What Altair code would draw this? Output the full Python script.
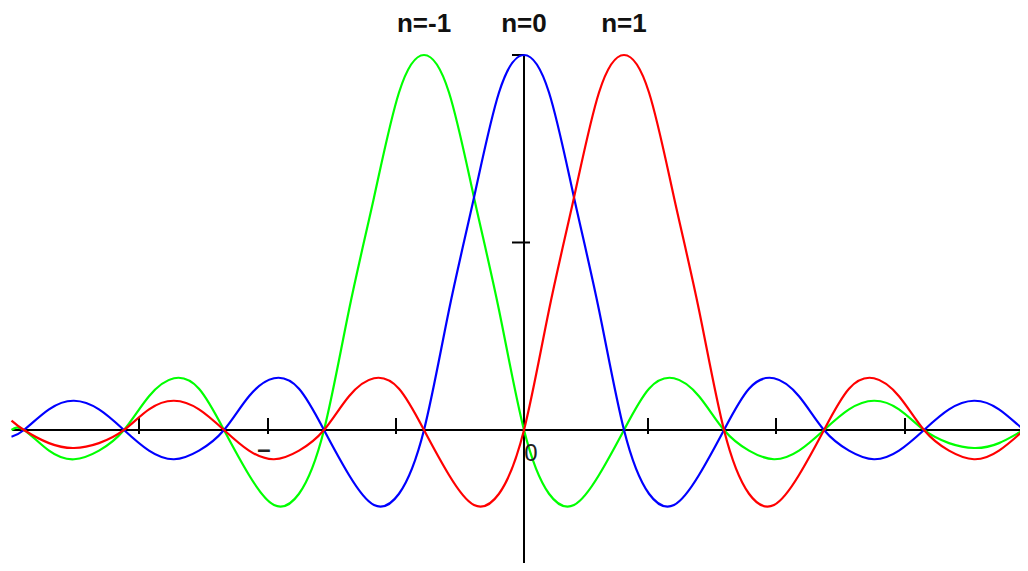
import altair as alt
import pandas as pd

# sample positions (units of the sample spacing)
xs = [-5.125, -5.0, -4.75, -4.5, -4.25, -4.0, -3.75, -3.5, -3.25, -3.0, -2.75, -2.5, -2.25,
      -2.0, -1.75, -1.5, -1.25, -1.0, -0.75, -0.5, -0.25, 0.0, 0.25, 0.5, 0.75, 1.0,
      1.25, 1.5, 1.75, 2.0, 2.25, 2.5, 2.75, 3.0, 3.25, 3.5, 3.75, 4.0, 4.25, 4.5,
      4.75, 5.0, 5.125]

# n = 0 (blue)
blue = [-0.018, 0.0, 0.055, 0.078, 0.055, 0.0, -0.055, -0.078, -0.055, 0.0, 0.09, 0.138, 0.11,
        0.0, -0.12, -0.20, -0.17, 0.0, 0.32, 0.62, 0.90, 1.0, 0.90, 0.62, 0.32, 0.0,
        -0.17, -0.20, -0.12, 0.0, 0.11, 0.138, 0.09, 0.0, -0.055, -0.078, -0.055, 0.0, 0.055, 0.078,
        0.055, 0.0, -0.018]

# n = -1 (green)
green = [0.0, 0.0, -0.055, -0.078, -0.055, 0.0, 0.09, 0.138, 0.11, 0.0, -0.12, -0.20, -0.17,
         0.0, 0.32, 0.62, 0.90, 1.0, 0.90, 0.62, 0.32, 0.0, -0.17, -0.20, -0.12, 0.0,
         0.11, 0.138, 0.09, 0.0, -0.055, -0.078, -0.055, 0.0, 0.055, 0.078, 0.055, 0.0, -0.035, -0.048,
         -0.035, 0.0, 0.01]

# n = 1 (red)
red = [0.025, 0.0, -0.035, -0.048, -0.035, 0.0, 0.055, 0.078, 0.055, 0.0, -0.055, -0.078, -0.055,
       0.0, 0.09, 0.138, 0.11, 0.0, -0.12, -0.20, -0.17, 0.0, 0.32, 0.62, 0.90, 1.0,
       0.90, 0.62, 0.32, 0.0, -0.17, -0.20, -0.12, 0.0, 0.11, 0.138, 0.09, 0.0, -0.055, -0.078,
       -0.055, 0.0, 0.03]

labels = ["n=-1", "n=0", "n=1"]
label_x = [-1.0, 0.0, 1.0]
xtick_pos = [-3.85, -2.56, -1.28, 1.24, 2.52, 3.81]
ytick_pos = [0.5, 1.0]

W, H = 1012, 555
XD = [-5.16, 4.96]
YD = [-0.3547, 1.12533]

xs_ = alt.Scale(domain=XD, nice=False, zero=False)
ys_ = alt.Scale(domain=YD, nice=False, zero=False)
X = lambda f: alt.X(f, type="quantitative", scale=xs_, axis=None)
Y = lambda f: alt.Y(f, type="quantitative", scale=ys_, axis=None)

def curve(vals, color):
    df = pd.DataFrame({"x": xs, "y": vals})
    return alt.Chart(df).mark_line(color=color, strokeWidth=2.2, interpolate="natural", clip=True).encode(
        x=X("x"), y=Y("y"))

# axes
haxis = alt.Chart(pd.DataFrame({"x": [-5.12], "x2": [4.96], "y": [0.0]})).mark_rule(
    color="black", strokeWidth=2, clip=True).encode(x=X("x"), x2="x2", y=Y("y"))
vaxis = alt.Chart(pd.DataFrame({"x": [0.0], "y": [YD[0]], "y2": [1.0]})).mark_rule(
    color="black", strokeWidth=2, clip=True).encode(x=X("x"), y=Y("y"), y2="y2")

xt = pd.DataFrame({"x": xtick_pos})
xt["y"] = -0.011
xt["y2"] = 0.032
xticks = alt.Chart(xt).mark_rule(color="black", strokeWidth=2).encode(x=X("x"), y=Y("y"), y2="y2")

yt = pd.DataFrame({"y": ytick_pos, "x": [-0.12, -0.12], "x2": [0.06, 0.0]})
yticks = alt.Chart(yt).mark_rule(color="black", strokeWidth=2).encode(y=Y("y"), x=X("x"), x2="x2")

lab = pd.DataFrame({"x": label_x, "y": [1.083] * 3, "t": labels})
title_text = alt.Chart(lab).mark_text(font="Liberation Sans", fontSize=26, fontWeight="bold",
                                      color="#111", baseline="middle", align="center").encode(
    x=X("x"), y=Y("y"), text="t:N")

zero_lab = alt.Chart(pd.DataFrame({"x": [0.07], "y": [-0.064], "t": ["0"]})).mark_text(
    font="Liberation Sans", fontSize=24, color="#222", baseline="middle", align="center").encode(
    x=X("x"), y=Y("y"), text="t:N")
dash_lab = alt.Chart(pd.DataFrame({"x": [-2.6], "y": [-0.053], "t": ["–"]})).mark_text(
    font="Liberation Sans", fontSize=24, fontWeight="bold", color="#222", baseline="middle",
    align="center").encode(x=X("x"), y=Y("y"), text="t:N")

chart = alt.layer(
    haxis, vaxis, xticks, yticks,
    curve(green, "#00ff00"), curve(blue, "#0000ff"), curve(red, "#ff0000"),
    title_text, zero_lab, dash_lab,
).properties(
    width=W, height=H, autosize=alt.AutoSizeParams(type="none"), padding=0
).configure_view(stroke=None)

chart.save("out.html", embed_options={"renderer": "svg", "actions": False})
